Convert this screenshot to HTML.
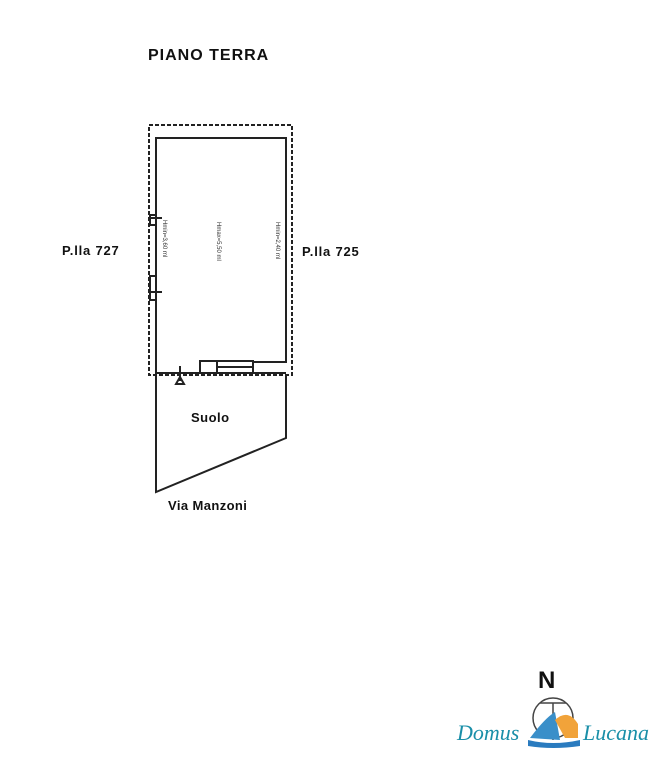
<!DOCTYPE html>
<html><head><style>
body{margin:0;background:#fff;}
.t{position:absolute;font-family:"Liberation Sans",sans-serif;color:#111;font-weight:bold;white-space:nowrap}
</style></head><body>
<div style="position:relative;width:649px;height:768px;overflow:hidden">
<svg width="649" height="768" style="position:absolute;left:0;top:0">
<g stroke="#222" fill="none" stroke-width="2">
<rect x="149" y="125" width="143" height="250" stroke-dasharray="4,2"/>
<polyline points="200,373 156,373 156,138 286,138 286,362 253,362"/>
<rect x="200" y="361" width="17" height="12"/>
<rect x="217" y="361" width="36" height="12"/>
<line x1="217" y1="367" x2="253" y2="367"/>
<line x1="253" y1="373" x2="286" y2="373"/>
<rect x="150" y="215" width="6" height="10"/>
<rect x="150" y="276" width="6" height="24"/>
<line x1="148" y1="218" x2="162" y2="218"/>
<line x1="148" y1="292" x2="162" y2="292"/>
<line x1="180" y1="366" x2="180" y2="381"/>
<polygon points="176,384 180,377 184,384"/>
<polyline points="156,375 156,492 286,438 286,375"/>
</g>
<g font-family="Liberation Sans" font-size="6" fill="#333">
<text transform="translate(163,220) rotate(90)">Hmin=3,60 ml</text>
<text transform="translate(217,222) rotate(90)">Hmax=5,50 ml</text>
<text transform="translate(276,222) rotate(90)">Hmin=2,40 ml</text>
</g>
<text x="538" y="688" font-family="Liberation Sans" font-weight="bold" font-size="24" fill="#111">N</text>
<circle cx="553" cy="718" r="20" fill="none" stroke="#444" stroke-width="1.5"/>
<line x1="540" y1="703" x2="566" y2="703" stroke="#444" stroke-width="1.5"/>
<line x1="553" y1="703" x2="553" y2="740" stroke="#444" stroke-width="1.5"/>
<path d="M530,738 Q545,718 555,712 L560,740 Z" fill="#3a8fc9"/>
<path d="M555,720 Q568,708 578,724 L578,738 L565,738 Z" fill="#f1a33a"/>
<path d="M528,740 Q553,746 580,740 L580,746 Q553,750 528,746 Z" fill="#2a7bbf"/>
</svg>
<div class="t" style="left:148px;top:47px;font-size:16px;letter-spacing:1px">PIANO TERRA</div>
<div class="t" style="left:62px;top:243px;font-size:13px;letter-spacing:0.8px">P.lla 727</div>
<div class="t" style="left:302px;top:244px;font-size:13px;letter-spacing:0.8px">P.lla 725</div>
<div class="t" style="left:191px;top:410px;font-size:13px;letter-spacing:0.5px">Suolo</div>
<div class="t" style="left:168px;top:498px;font-size:13px;letter-spacing:0.4px">Via Manzoni</div>
<div class="t" style="left:457px;top:720px;font-size:22px;font-family:'Liberation Serif',serif;font-style:italic;font-weight:normal;color:#1a8fa8">Domus</div>
<div class="t" style="left:583px;top:720px;font-size:22px;font-family:'Liberation Serif',serif;font-style:italic;font-weight:normal;color:#1a8fa8">Lucana</div>
</div>
</body></html>
